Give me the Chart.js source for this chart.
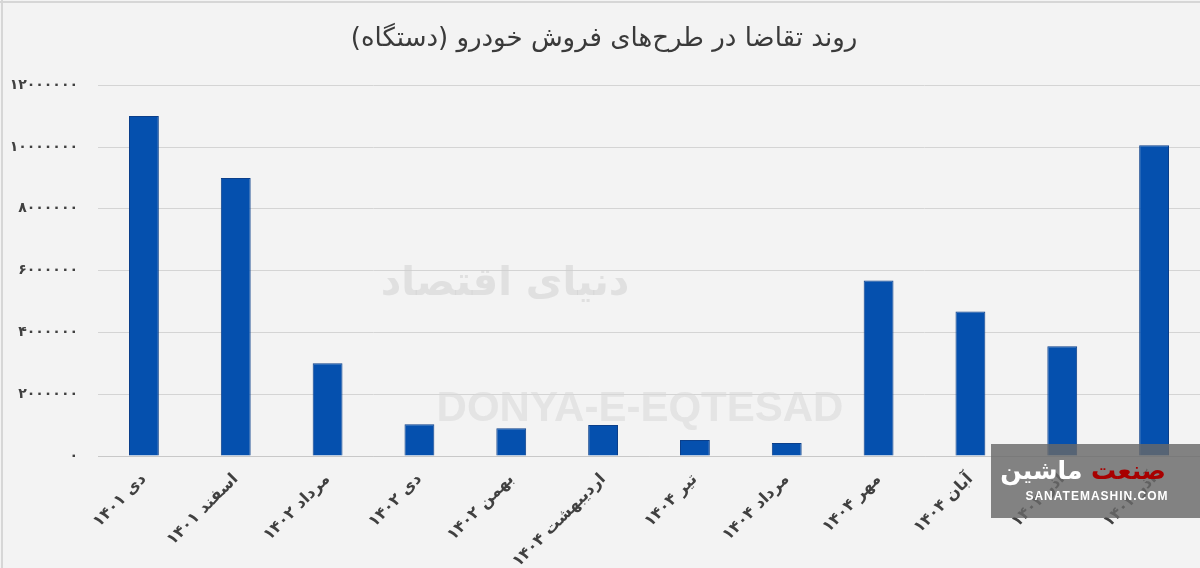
<!DOCTYPE html>
<html>
<head>
<meta charset="utf-8">
<script src="https://cdn.jsdelivr.net/npm/chart.js@4"></script>
<style>
  html, body { margin: 0; padding: 0; background: #f3f3f3; }
  #wrap { width: 1200px; height: 568px; position: relative; }
</style>
</head>
<body>
<div id="wrap"><canvas id="bar-chartcanvas" width="1200" height="568"></canvas></div>
<script>
// data
var months = ["دی ۱۴۰۱", "اسفند ۱۴۰۱", "مرداد ۱۴۰۲", "دی ۱۴۰۲", "بهمن ۱۴۰۲", "اردیبهشت ۱۴۰۴",
              "تیر ۱۴۰۴", "مرداد ۱۴۰۴", "مهر ۱۴۰۴", "آبان ۱۴۰۴", "آذر ۱۴۰۴", "آذر ۱۴۰۴"];
var demand = [11000000, 9000000, 3000000, 1030000, 900000, 1000000,
              520000, 420000, 5680000, 4680000, 3550000, 10060000];
var yMax = 12000000;
var yStep = 2000000;

var chartTitle = "روند تقاضا در طرح‌های فروش خودرو (دستگاه)";

function toFa(n) {
	return String(n).replace(/\d/g, function(d) { return "۰۱۲۳۴۵۶۷۸۹"[d]; });
}

var faFont = "'DejaVu Sans', sans-serif";

// background, frame, watermarks
var backdrop = {
	id: "backdrop",
	beforeDraw: function(chart) {
		var c = chart.ctx;
		c.save();
		c.fillStyle = "#f3f3f3";
		c.fillRect(0, 0, chart.width, chart.height);
		c.fillStyle = "#d6d6d6";
		c.fillRect(0, 1, chart.width, 2);
		c.fillRect(1, 0, 2, chart.height);
		c.restore();
	},
	beforeDatasetsDraw: function(chart) {
		var c = chart.ctx;
		c.save();
		c.textAlign = "center";
		c.textBaseline = "middle";
		c.fillStyle = "rgba(205,205,205,0.5)";
		c.font = "bold 40px " + faFont;
		c.fillText("دنیای اقتصاد", 505, 285);
		c.fillStyle = "rgba(215,215,215,0.55)";
		c.font = "bold 42px 'Liberation Sans', Arial, sans-serif";
		c.fillText("DONYA-E-EQTESAD", 640, 409);
		c.restore();
	},
	afterDraw: function(chart) {
		var c = chart.ctx;
		c.save();
		c.fillStyle = "rgba(105,105,105,0.82)";
		c.fillRect(991, 444, 209, 74);
		c.textBaseline = "middle";
		c.font = "bold 25px " + faFont;
		c.textAlign = "right";
		c.fillStyle = "#a80000";
		c.fillText("صنعت", 1166, 472);
		var w = c.measureText("صنعت ").width;
		c.fillStyle = "#ffffff";
		c.fillText("ماشین", 1166 - w, 472);
		c.font = "bold 12px 'Liberation Sans', Arial, sans-serif";
		c.textAlign = "center";
		c.letterSpacing = "1px";
		c.fillText("SANATEMASHIN.COM", 1097, 497);
		c.restore();
	}
};

var ctx = document.getElementById("bar-chartcanvas");

var data = {
	labels: months,
	datasets: [
		{
			label: "تقاضا",
			data: demand,
			backgroundColor: "#0550ae",
			borderColor: "#0b3f8a",
			borderWidth: 1,
			categoryPercentage: 1,
			barPercentage: 0.325
		}
	]
};

var options = {
	responsive: false,
	animation: false,
	layout: { padding: { top: 18, left: 8, right: 0, bottom: 0 } },
	plugins: {
		legend: { display: false },
		tooltip: { enabled: false },
		title: {
			display: true,
			text: chartTitle,
			color: "#3a3a3a",
			font: { family: faFont, size: 26, weight: "normal" },
			padding: { top: 6, bottom: 30 }
		}
	},
	scales: {
		x: {
			grid: { display: false },
			border: { display: true, color: "#c8c8c8", width: 1 },
			ticks: {
				color: "#404040",
				font: { family: faFont, size: 16, weight: "bold" },
				maxRotation: 45,
				minRotation: 45,
				padding: 6,
				autoSkip: false
			},
			afterFit: function(s) { s.height = 112; }
		},
		y: {
			min: 0,
			max: yMax,
			grid: { color: "#d4d4d4", drawTicks: false },
			border: { display: false },
			ticks: {
				stepSize: yStep,
				color: "#404040",
				font: { family: faFont, size: 14, weight: "bold" },
				padding: 20,
				callback: function(v) { return toFa(v); }
			},
			afterFit: function(s) { s.width = 90; }
		}
	}
};

var chart = new Chart(ctx, {
	type: "bar",
	data: data,
	options: options,
	plugins: [backdrop]
});
</script>
</body>
</html>
